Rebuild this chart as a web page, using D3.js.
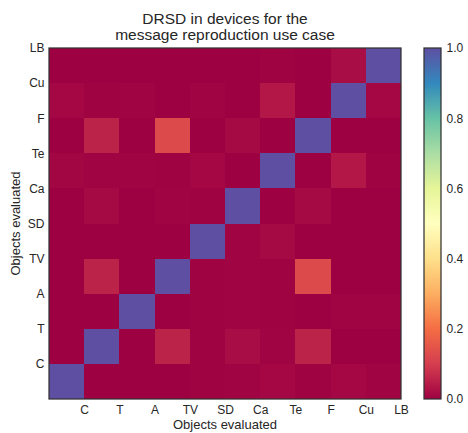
<!DOCTYPE html>
<html><head><meta charset="utf-8">
<script src="https://cdn.jsdelivr.net/npm/d3@7"></script>
<style>body{margin:0;background:#fff;} text{font-family:"Liberation Sans",Arial,sans-serif;fill:#262626;}</style>
</head><body><svg id="c" width="468" height="433"></svg>
<script>
const categories = ["C","T","A","TV","SD","Ca","Te","F","Cu","LB"];
// rows: evaluated object (y, bottom to top), columns: x
const rowC  = [1, 0, 0, 0, 0.003, 0.005, 0.01, 0.003, 0.01, 0.005];
const rowT  = [0, 1, 0, 0.055, 0.003, 0.02, 0.005, 0.055, 0, 0];
const rowA  = [0, 0, 1, 0, 0.003, 0.005, 0.003, 0, 0.005, 0.005];
const rowTV = [0, 0.055, 0, 1, 0.003, 0.005, 0.003, 0.125, 0, 0];
const rowSD = [0, 0, 0, 0, 1, 0.005, 0.015, 0, 0, 0];
const rowCa = [0, 0.015, 0, 0.005, 0.003, 1, 0, 0.015, 0, 0];
const rowTe = [0.008, 0.005, 0.005, 0.003, 0.01, 0, 1, 0, 0.036, 0.003];
const rowF  = [0, 0.055, 0, 0.125, 0, 0.015, 0, 1, 0, 0];
const rowCu = [0.01, 0.003, 0.005, 0, 0.005, 0, 0.036, 0, 1, 0.01];
const rowLB = [0, 0, 0, 0, 0, 0, 0.003, 0, 0.02, 1];
const matrix = [rowC,rowT,rowA,rowTV,rowSD,rowCa,rowTe,rowF,rowCu,rowLB];
const cbTicks = [0,0.2,0.4,0.6,0.8,1.0];
const spectral = ["#9e0142","#d53e4f","#f46d43","#fdae61","#fee08b","#ffffbf","#e6f598","#abdda4","#66c2a5","#3288bd","#5e4fa2"];

const svg = d3.select("#c");
const L=49,R=401,T=48,B=399;
const FONT='"Liberation Sans",Arial,sans-serif';
const x = d3.scaleLinear().domain([0,10]).range([L,R]);
const y = d3.scaleLinear().domain([0,10]).range([B,T]);
const color = d3.scaleLinear().domain(d3.range(11).map(i=>i/10)).range(spectral).interpolate(d3.interpolateRgb);

const cells = [];
matrix.forEach((row,i)=>row.forEach((v,j)=>cells.push({i,j,v})));
svg.append("g").selectAll("rect").data(cells).join("rect")
  .attr("x",d=>x(d.j)).attr("y",d=>y(d.i+1))
  .attr("width",d=>x(d.j+1)-x(d.j)).attr("height",d=>y(d.i)-y(d.i+1))
  .attr("fill",d=>color(d.v)).attr("shape-rendering","crispEdges");

svg.append("rect").attr("x",L).attr("y",T).attr("width",R-L).attr("height",B-T)
  .attr("fill","none").attr("stroke","#333").attr("stroke-width",1.25);

const xa = svg.append("g").attr("transform",`translate(0,${B})`)
  .call(d3.axisBottom(x).tickValues(d3.range(1,11)).tickFormat(d=>categories[d-1]).tickSize(0).tickPadding(6));
const ya = svg.append("g").attr("transform",`translate(${L},0)`)
  .call(d3.axisLeft(y).tickValues(d3.range(1,11)).tickFormat(d=>categories[d-1]).tickSize(0).tickPadding(4.5));
[xa,ya].forEach(a=>{a.select(".domain").remove();a.selectAll("text").attr("font-size",12).style("font-family",FONT).attr("fill","#262626");});

svg.append("text").attr("x",(L+R)/2).attr("y",429).attr("text-anchor","middle").attr("font-size",13).text("Objects evaluated");
svg.append("text").attr("transform",`translate(19.5,${(T+B)/2}) rotate(-90)`).attr("text-anchor","middle").attr("font-size",13).text("Objects evaluated");
svg.append("text").attr("x",(L+R)/2).attr("y",24).attr("text-anchor","middle").attr("font-size",15.5).text("DRSD in devices for the");
svg.append("text").attr("x",(L+R)/2).attr("y",40).attr("text-anchor","middle").attr("font-size",15.5).text("message reproduction use case");

// colorbar
const cbL=424,cbW=17;
const cy = d3.scaleLinear().domain([0,1]).range([B,T]);
const defs = svg.append("defs");
const grad = defs.append("linearGradient").attr("id","g").attr("x1",0).attr("y1",1).attr("x2",0).attr("y2",0);
grad.selectAll("stop").data(d3.range(0,1.0001,0.02)).join("stop")
  .attr("offset",d=>d).attr("stop-color",d=>color(d));
svg.append("rect").attr("x",cbL).attr("y",T).attr("width",cbW).attr("height",B-T).attr("fill","url(#g)")
  .attr("stroke","#333").attr("stroke-width",1.25);
const ca = svg.append("g").attr("transform",`translate(${cbL+cbW},0)`)
  .call(d3.axisRight(cy).tickValues(cbTicks).tickFormat(d3.format(".1f")).tickSize(0).tickPadding(5.5));
ca.select(".domain").remove();
ca.selectAll("text").attr("font-size",12).style("font-family",FONT).attr("fill","#262626");
</script></body></html>
